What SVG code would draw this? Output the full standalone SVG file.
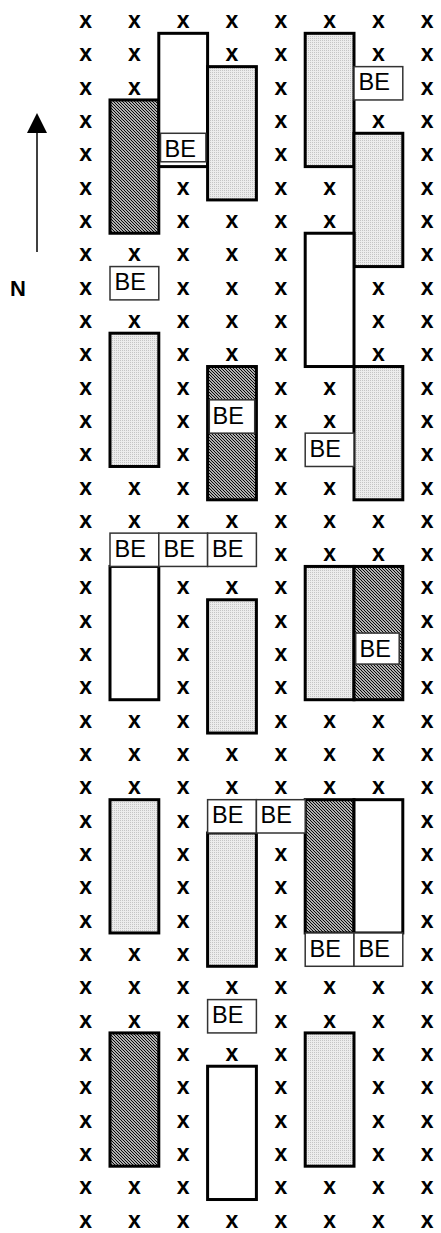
<svg xmlns="http://www.w3.org/2000/svg" width="441" height="1233" viewBox="0 0 441 1233">
<style>
.x{font-family:"Liberation Sans",Arial,sans-serif;font-weight:bold;font-size:23px;text-anchor:middle;fill:#000}
.be{font-family:"Liberation Sans",Arial,sans-serif;font-size:23.5px;fill:#000}
.bx{fill:#fff;stroke:#333;stroke-width:1.5}
.r{stroke:#000;stroke-width:3}
.w{fill:#fff}
.d{fill:url(#dark)}
.l{fill:url(#light)}
</style>
<defs>
<pattern id="dark" width="3" height="3" patternUnits="userSpaceOnUse"><rect width="3" height="3" fill="#fff"/><path d="M0,0 L3,3 M-1,2 L1,4 M2,-1 L4,1" stroke="#000" stroke-width="1.2"/></pattern>
<pattern id="light" width="2" height="2" patternUnits="userSpaceOnUse"><rect width="2" height="2" fill="#ececec"/><rect width="1" height="1" fill="#c4c4c4"/></pattern>
</defs>
<rect width="441" height="1233" fill="#fff"/>
<g id="north">
<line x1="37" y1="132" x2="37" y2="252" stroke="#000" stroke-width="1.5"/>
<polygon points="37,113 27,133 47,133" fill="#000"/>
<text x="18" y="296" class="x" style="font-size:22px">N</text>
</g>
<g id="grid-x">
<g transform="translate(0,28)"><text class="x" x="85.6">x</text><text class="x" x="134.4">x</text><text class="x" x="183.2">x</text><text class="x" x="232">x</text><text class="x" x="280.8">x</text><text class="x" x="329.6">x</text><text class="x" x="378.4">x</text><text class="x" x="427.2">x</text></g>
<g transform="translate(0,61.3)"><text class="x" x="85.6">x</text><text class="x" x="134.4">x</text><text class="x" x="232">x</text><text class="x" x="280.8">x</text><text class="x" x="378.4">x</text><text class="x" x="427.2">x</text></g>
<g transform="translate(0,94.6)"><text class="x" x="85.6">x</text><text class="x" x="134.4">x</text><text class="x" x="280.8">x</text><text class="x" x="427.2">x</text></g>
<g transform="translate(0,128)"><text class="x" x="85.6">x</text><text class="x" x="280.8">x</text><text class="x" x="378.4">x</text><text class="x" x="427.2">x</text></g>
<g transform="translate(0,161.3)"><text class="x" x="85.6">x</text><text class="x" x="280.8">x</text><text class="x" x="427.2">x</text></g>
<g transform="translate(0,194.6)"><text class="x" x="85.6">x</text><text class="x" x="183.2">x</text><text class="x" x="280.8">x</text><text class="x" x="329.6">x</text><text class="x" x="427.2">x</text></g>
<g transform="translate(0,227.9)"><text class="x" x="85.6">x</text><text class="x" x="183.2">x</text><text class="x" x="232">x</text><text class="x" x="280.8">x</text><text class="x" x="329.6">x</text><text class="x" x="427.2">x</text></g>
<g transform="translate(0,261.2)"><text class="x" x="85.6">x</text><text class="x" x="134.4">x</text><text class="x" x="183.2">x</text><text class="x" x="232">x</text><text class="x" x="280.8">x</text><text class="x" x="427.2">x</text></g>
<g transform="translate(0,294.6)"><text class="x" x="85.6">x</text><text class="x" x="183.2">x</text><text class="x" x="232">x</text><text class="x" x="280.8">x</text><text class="x" x="378.4">x</text><text class="x" x="427.2">x</text></g>
<g transform="translate(0,327.9)"><text class="x" x="85.6">x</text><text class="x" x="134.4">x</text><text class="x" x="183.2">x</text><text class="x" x="232">x</text><text class="x" x="280.8">x</text><text class="x" x="378.4">x</text><text class="x" x="427.2">x</text></g>
<g transform="translate(0,361.2)"><text class="x" x="85.6">x</text><text class="x" x="183.2">x</text><text class="x" x="232">x</text><text class="x" x="280.8">x</text><text class="x" x="378.4">x</text><text class="x" x="427.2">x</text></g>
<g transform="translate(0,394.5)"><text class="x" x="85.6">x</text><text class="x" x="183.2">x</text><text class="x" x="280.8">x</text><text class="x" x="329.6">x</text><text class="x" x="427.2">x</text></g>
<g transform="translate(0,427.8)"><text class="x" x="85.6">x</text><text class="x" x="183.2">x</text><text class="x" x="280.8">x</text><text class="x" x="329.6">x</text><text class="x" x="427.2">x</text></g>
<g transform="translate(0,461.2)"><text class="x" x="85.6">x</text><text class="x" x="183.2">x</text><text class="x" x="280.8">x</text><text class="x" x="427.2">x</text></g>
<g transform="translate(0,494.5)"><text class="x" x="85.6">x</text><text class="x" x="134.4">x</text><text class="x" x="183.2">x</text><text class="x" x="280.8">x</text><text class="x" x="329.6">x</text><text class="x" x="427.2">x</text></g>
<g transform="translate(0,527.8)"><text class="x" x="85.6">x</text><text class="x" x="134.4">x</text><text class="x" x="183.2">x</text><text class="x" x="232">x</text><text class="x" x="280.8">x</text><text class="x" x="329.6">x</text><text class="x" x="378.4">x</text><text class="x" x="427.2">x</text></g>
<g transform="translate(0,561.1)"><text class="x" x="85.6">x</text><text class="x" x="280.8">x</text><text class="x" x="329.6">x</text><text class="x" x="378.4">x</text><text class="x" x="427.2">x</text></g>
<g transform="translate(0,594.4)"><text class="x" x="85.6">x</text><text class="x" x="183.2">x</text><text class="x" x="232">x</text><text class="x" x="280.8">x</text><text class="x" x="427.2">x</text></g>
<g transform="translate(0,627.8)"><text class="x" x="85.6">x</text><text class="x" x="183.2">x</text><text class="x" x="280.8">x</text><text class="x" x="427.2">x</text></g>
<g transform="translate(0,661.1)"><text class="x" x="85.6">x</text><text class="x" x="183.2">x</text><text class="x" x="280.8">x</text><text class="x" x="427.2">x</text></g>
<g transform="translate(0,694.4)"><text class="x" x="85.6">x</text><text class="x" x="183.2">x</text><text class="x" x="280.8">x</text><text class="x" x="427.2">x</text></g>
<g transform="translate(0,727.7)"><text class="x" x="85.6">x</text><text class="x" x="134.4">x</text><text class="x" x="183.2">x</text><text class="x" x="280.8">x</text><text class="x" x="329.6">x</text><text class="x" x="378.4">x</text><text class="x" x="427.2">x</text></g>
<g transform="translate(0,761)"><text class="x" x="85.6">x</text><text class="x" x="134.4">x</text><text class="x" x="183.2">x</text><text class="x" x="232">x</text><text class="x" x="280.8">x</text><text class="x" x="329.6">x</text><text class="x" x="378.4">x</text><text class="x" x="427.2">x</text></g>
<g transform="translate(0,794.4)"><text class="x" x="85.6">x</text><text class="x" x="134.4">x</text><text class="x" x="183.2">x</text><text class="x" x="232">x</text><text class="x" x="280.8">x</text><text class="x" x="329.6">x</text><text class="x" x="378.4">x</text><text class="x" x="427.2">x</text></g>
<g transform="translate(0,827.7)"><text class="x" x="85.6">x</text><text class="x" x="183.2">x</text><text class="x" x="427.2">x</text></g>
<g transform="translate(0,861)"><text class="x" x="85.6">x</text><text class="x" x="183.2">x</text><text class="x" x="280.8">x</text><text class="x" x="427.2">x</text></g>
<g transform="translate(0,894.3)"><text class="x" x="85.6">x</text><text class="x" x="183.2">x</text><text class="x" x="280.8">x</text><text class="x" x="427.2">x</text></g>
<g transform="translate(0,927.6)"><text class="x" x="85.6">x</text><text class="x" x="183.2">x</text><text class="x" x="280.8">x</text><text class="x" x="427.2">x</text></g>
<g transform="translate(0,961)"><text class="x" x="85.6">x</text><text class="x" x="134.4">x</text><text class="x" x="183.2">x</text><text class="x" x="280.8">x</text><text class="x" x="427.2">x</text></g>
<g transform="translate(0,994.3)"><text class="x" x="85.6">x</text><text class="x" x="134.4">x</text><text class="x" x="183.2">x</text><text class="x" x="232">x</text><text class="x" x="280.8">x</text><text class="x" x="329.6">x</text><text class="x" x="378.4">x</text><text class="x" x="427.2">x</text></g>
<g transform="translate(0,1027.6)"><text class="x" x="85.6">x</text><text class="x" x="134.4">x</text><text class="x" x="183.2">x</text><text class="x" x="280.8">x</text><text class="x" x="329.6">x</text><text class="x" x="378.4">x</text><text class="x" x="427.2">x</text></g>
<g transform="translate(0,1060.9)"><text class="x" x="85.6">x</text><text class="x" x="183.2">x</text><text class="x" x="232">x</text><text class="x" x="280.8">x</text><text class="x" x="378.4">x</text><text class="x" x="427.2">x</text></g>
<g transform="translate(0,1094.2)"><text class="x" x="85.6">x</text><text class="x" x="183.2">x</text><text class="x" x="280.8">x</text><text class="x" x="378.4">x</text><text class="x" x="427.2">x</text></g>
<g transform="translate(0,1127.6)"><text class="x" x="85.6">x</text><text class="x" x="183.2">x</text><text class="x" x="280.8">x</text><text class="x" x="378.4">x</text><text class="x" x="427.2">x</text></g>
<g transform="translate(0,1160.9)"><text class="x" x="85.6">x</text><text class="x" x="183.2">x</text><text class="x" x="280.8">x</text><text class="x" x="378.4">x</text><text class="x" x="427.2">x</text></g>
<g transform="translate(0,1194.2)"><text class="x" x="85.6">x</text><text class="x" x="134.4">x</text><text class="x" x="183.2">x</text><text class="x" x="280.8">x</text><text class="x" x="329.6">x</text><text class="x" x="378.4">x</text><text class="x" x="427.2">x</text></g>
<g transform="translate(0,1227.5)"><text class="x" x="85.6">x</text><text class="x" x="134.4">x</text><text class="x" x="183.2">x</text><text class="x" x="232">x</text><text class="x" x="280.8">x</text><text class="x" x="329.6">x</text><text class="x" x="378.4">x</text><text class="x" x="427.2">x</text></g>
</g>
<g id="blocks">
<rect class="r d" x="110" y="99.96" width="48.8" height="133.28"/>
<rect class="r w" x="158.8" y="33.32" width="48.8" height="133.28"/>
<rect class="r l" x="207.6" y="66.64" width="48.8" height="133.28"/>
<rect class="r l" x="305.2" y="33.32" width="48.8" height="133.28"/>
<rect class="r l" x="354" y="133.28" width="48.8" height="133.28"/>
<rect class="r w" x="305.2" y="233.24" width="48.8" height="133.28"/>
<rect class="r l" x="110" y="333.2" width="48.8" height="133.28"/>
<rect class="r d" x="207.6" y="366.52" width="48.8" height="133.28"/>
<rect class="r l" x="354" y="366.52" width="48.8" height="133.28"/>
<rect class="r w" x="110" y="566.44" width="48.8" height="133.28"/>
<rect class="r l" x="207.6" y="599.76" width="48.8" height="133.28"/>
<rect class="r l" x="305.2" y="566.44" width="48.8" height="133.28"/>
<rect class="r d" x="354" y="566.44" width="48.8" height="133.28"/>
<rect class="r l" x="110" y="799.68" width="48.8" height="133.28"/>
<rect class="r l" x="207.6" y="833" width="48.8" height="133.28"/>
<rect class="r d" x="305.2" y="799.68" width="48.8" height="133.28"/>
<rect class="r w" x="354" y="799.68" width="48.8" height="133.28"/>
<rect class="r d" x="110" y="1032.92" width="48.8" height="133.28"/>
<rect class="r w" x="207.6" y="1066.24" width="48.8" height="133.28"/>
<rect class="r l" x="305.2" y="1032.92" width="48.8" height="133.28"/>
</g>
<g id="be-boxes">
<g><rect class="bx" x="160.5" y="133.28" width="45.4" height="28.5"/><text class="be" x="164.5" y="156.8">BE</text></g>
<g><rect class="bx" x="209.3" y="399.84" width="45.4" height="33.32"/><text class="be" x="212.5" y="423.5">BE</text></g>
<g><rect class="bx" x="355.7" y="633.08" width="43.5" height="31"/><text class="be" x="359.5" y="656.7">BE</text></g>
<g><rect class="bx" x="354" y="66.64" width="48.8" height="33.32"/><text class="be" x="358.5" y="90.3">BE</text></g>
<g><rect class="bx" x="110" y="266.56" width="48.8" height="33.32"/><text class="be" x="114.5" y="290.2">BE</text></g>
<g><rect class="bx" x="305.2" y="433.16" width="48.8" height="33.32"/><text class="be" x="309.5" y="456.8">BE</text></g>
<g><rect class="bx" x="110" y="533.12" width="48.8" height="33.32"/><text class="be" x="114.5" y="556.8">BE</text></g>
<g><rect class="bx" x="158.8" y="533.12" width="48.8" height="33.32"/><text class="be" x="163.5" y="556.8">BE</text></g>
<g><rect class="bx" x="207.6" y="533.12" width="48.8" height="33.32"/><text class="be" x="212" y="556.8">BE</text></g>
<g><rect class="bx" x="207.6" y="799.68" width="48.8" height="33.32"/><text class="be" x="212" y="823.3">BE</text></g>
<g><rect class="bx" x="256.4" y="799.68" width="48.8" height="33.32"/><text class="be" x="260.5" y="823.3">BE</text></g>
<g><rect class="bx" x="305.2" y="932.96" width="48.8" height="33.32"/><text class="be" x="309.5" y="956.6">BE</text></g>
<g><rect class="bx" x="354" y="932.96" width="48.8" height="33.32"/><text class="be" x="358.5" y="956.6">BE</text></g>
<g><rect class="bx" x="207.6" y="999.6" width="48.8" height="33.32"/><text class="be" x="212" y="1023.2">BE</text></g>
</g>
</svg>
